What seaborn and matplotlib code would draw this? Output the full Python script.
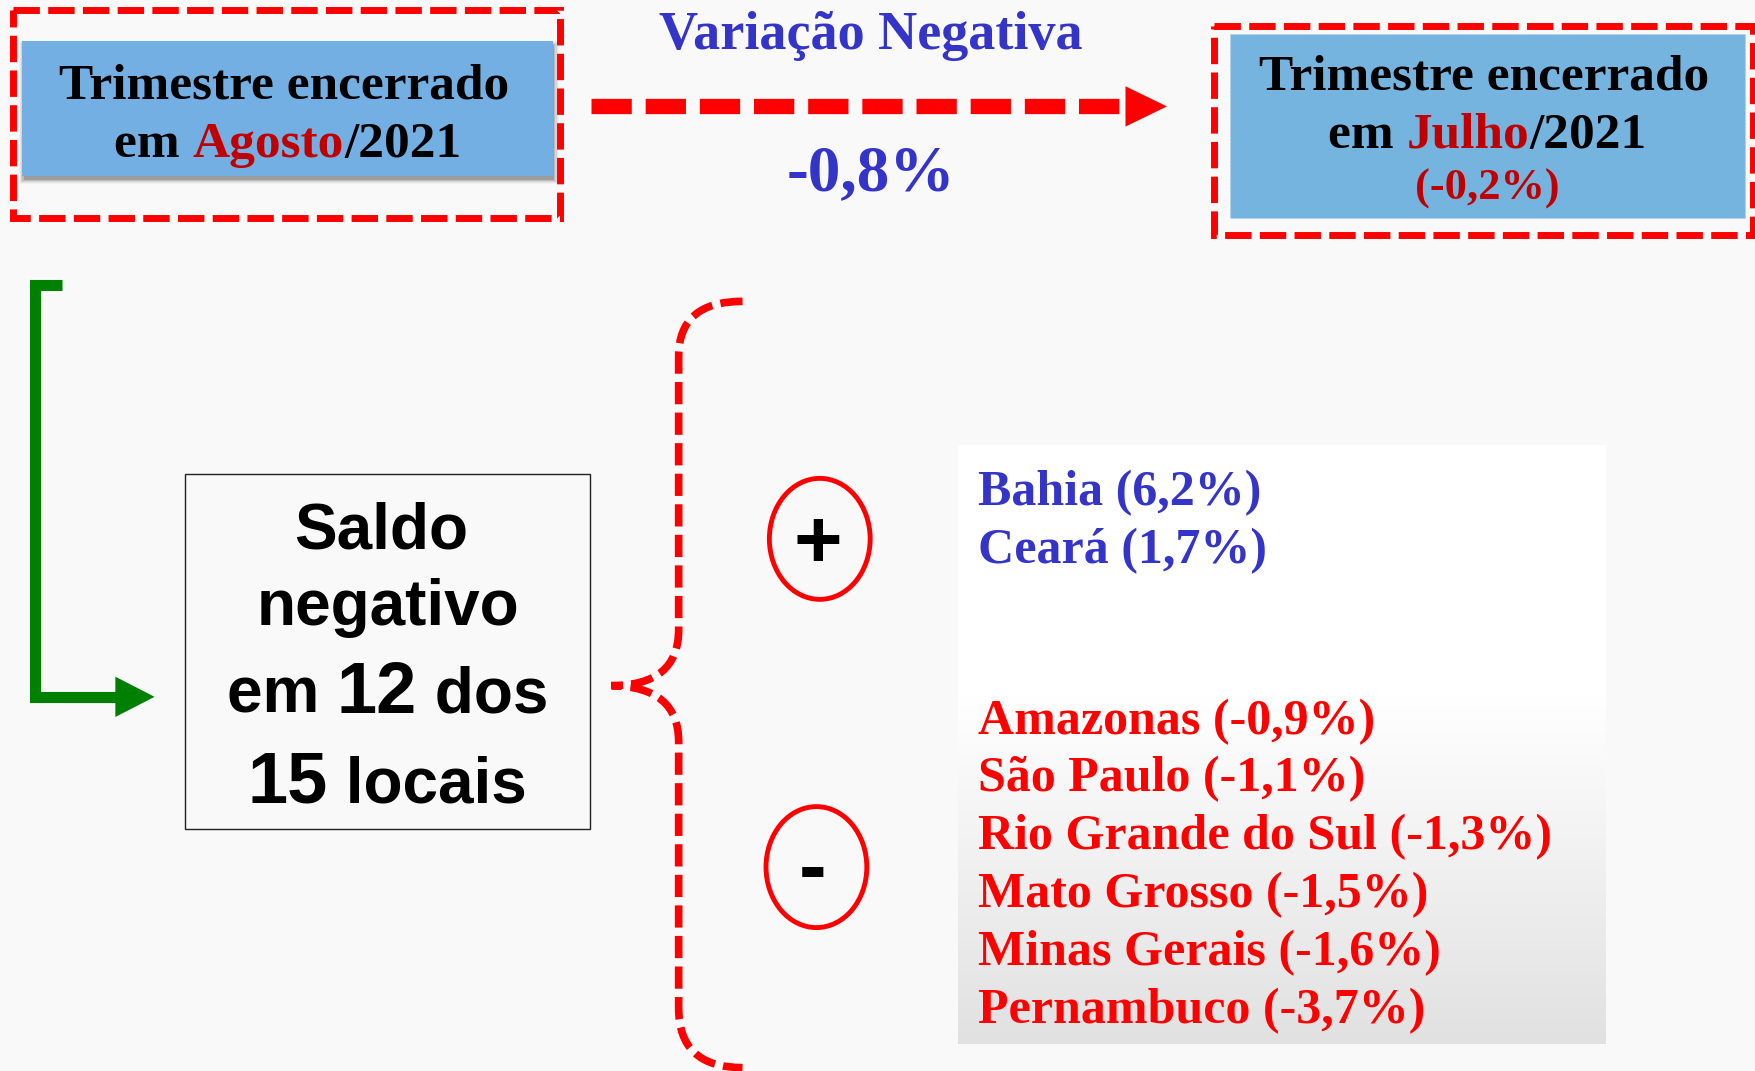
import numpy as np
import matplotlib
matplotlib.use("Agg")
import matplotlib.pyplot as plt
import seaborn as sns
from matplotlib.patches import Rectangle, Ellipse, Polygon, PathPatch
from matplotlib.path import Path
from matplotlib.colors import LinearSegmentedColormap

# values
total_change = -0.8
prev_change = -0.2
current_month = "Agosto"
previous_month = "Julho"
year = 2021
n_negative = 12
n_total = 15

positive_states = ["Bahia", "Ceará"]
positive_values = [6.2, 1.7]
negative_states = ["Amazonas", "São Paulo", "Rio Grande do Sul",
                   "Mato Grosso", "Minas Gerais", "Pernambuco"]
negative_values = [-0.9, -1.1, -1.3, -1.5, -1.6, -3.7]


def pct(v):
    return f"{v:.1f}%".replace(".", ",")


sns.set_theme(style="white", rc={"lines.scale_dashes": False})
plt.rcParams["font.family"] = ["Liberation Serif", "DejaVu Serif"]

BG = "#f9f9f9"
RED = "#ff0000"
DARKRED = "#c00000"
BLUE = "#3434c8"
BOXBLUE = "#73afe2"
GREEN = "#008000"
SERIF = ["Liberation Serif", "DejaVu Serif"]
SANS = ["Liberation Sans", "DejaVu Sans"]

fig = plt.figure(figsize=(17.56, 10.71), dpi=100, facecolor=BG)
ax = fig.add_axes([0, 0, 1, 1])
ax.set_facecolor(BG)
W, H = 1568, 956
ax.set_xlim(0, W)
ax.set_ylim(H, 0)
ax.axis("off")
PX = 1756 / W
renderer = fig.canvas.get_renderer()


def text_width(s, **kw):
    t = ax.text(0, 0, s + "|", **kw)
    w1 = t.get_window_extent(renderer).width
    t.set_text("|")
    w2 = t.get_window_extent(renderer).width
    t.remove()
    return (w1 - w2) / PX


def rich_line(xc, y, parts, **kw):
    opts = [{**kw, **p} for _, p in parts]
    widths = [text_width(s, **o) for (s, _), o in zip(parts, opts)]
    x = xc - sum(widths) / 2
    for (s, _), o, w in zip(parts, opts, widths):
        ax.text(x, y, s, ha="left", va="baseline", **o)
        x += w


dash = (0, (19, 6))

# ---- top left box (with soft drop shadow)
for i, a in enumerate([0.16, 0.10, 0.07, 0.05, 0.03]):
    ax.add_patch(Rectangle((20 + 1 - i, 37 + 3.5 - i), 474 + 2 * i, 120 + 2 * i,
                           facecolor="black", edgecolor="none", alpha=a, zorder=1))
ax.add_patch(Rectangle((20, 37), 474, 120, facecolor=BOXBLUE, edgecolor="none", zorder=2))
ax.add_patch(Rectangle((12, 9), 488, 186, fill=False, edgecolor=RED, lw=5,
                       linestyle=dash, zorder=3))
txt = dict(fontsize=37, fontweight="bold", family=SERIF, zorder=4)
ax.text(254, 88, "Trimestre encerrado", ha="center", va="baseline", color="black", **txt)
rich_line(257, 140, [("em ", {"color": "black"}),
                     (current_month, {"color": DARKRED}),
                     (f"/{year}", {"color": "black"})], **txt)

# ---- top right box
ax.add_patch(Rectangle((1098, 30), 460, 165, facecolor="#76b4e0",
                       edgecolor="#a9cdea", lw=0.8, linestyle=":", zorder=2))
ax.add_patch(Rectangle((1084, 23), 481, 187, fill=False, edgecolor=RED, lw=5,
                       linestyle=dash, zorder=3))
ax.text(1325, 80, "Trimestre encerrado", ha="center", va="baseline", color="black", **txt)
rich_line(1328, 132, [("em ", {"color": "black"}),
                      (previous_month, {"color": DARKRED}),
                      (f"/{year}", {"color": "black"})], **txt)
ax.text(1328, 178, f"({pct(prev_change)})", ha="center", va="baseline", color=DARKRED,
        fontsize=32, fontweight="bold", family=SERIF, zorder=4)

# ---- dashed arrow between boxes
ax.plot([528, 1008], [95, 95], color=RED, lw=11, linestyle=(0, (29, 10)),
        solid_capstyle="butt", dash_capstyle="butt", zorder=3)
ax.add_patch(Polygon([[1005, 77], [1005, 113], [1042, 95]], closed=True,
                     facecolor=RED, edgecolor="none", zorder=3))
ax.text(778, 44, "Variação Negativa", ha="center", va="baseline", color=BLUE,
        fontsize=39, fontweight="bold", family=SERIF)
ax.text(778, 170, pct(total_change), ha="center", va="baseline", color=BLUE,
        fontsize=47, fontweight="bold", family=SERIF)

# ---- green elbow arrow
ax.plot([55, 31, 31, 104], [254, 254, 622, 622], color=GREEN, lw=8,
        solid_joinstyle="miter", solid_capstyle="butt", zorder=3)
ax.add_patch(Polygon([[103, 604], [103, 640], [138, 622]], closed=True,
                     facecolor=GREEN, edgecolor="none", zorder=3))

# ---- saldo box
ax.add_patch(Rectangle((165, 423), 362, 317, fill=False, edgecolor="#202020", lw=1.0))
big = dict(fontsize=46, fontweight="bold", family=SANS, color="black")
ax.text(340, 490, "Saldo", ha="center", va="baseline", **big)
ax.text(346, 558, "negativo", ha="center", va="baseline", **big)
rich_line(346, 636, [("em ", {}), (str(n_negative), {"fontsize": 52}), (" dos", {})], **big)
rich_line(346, 716, [(str(n_total), {"fontsize": 52}), (" locais", {})], **big)

# ---- curly brace
verts = [(663, 269), (606, 269), (606, 318), (606, 562), (606, 612), (546, 612),
         (606, 613), (606, 662), (606, 900), (606, 953), (663, 953)]
codes = [Path.MOVETO, Path.CURVE3, Path.CURVE3, Path.LINETO, Path.CURVE3, Path.CURVE3,
         Path.CURVE3, Path.CURVE3, Path.LINETO, Path.CURVE3, Path.CURVE3]
ax.add_patch(PathPatch(Path(verts, codes), fill=False, edgecolor=RED, lw=5.5,
                       linestyle=(0, (16, 6)), capstyle="butt"))

# ---- +/- circles
ax.add_patch(Ellipse((732, 481), 90, 108, fill=False, edgecolor=RED, lw=3.5))
ax.add_patch(Ellipse((729, 774), 90, 108, fill=False, edgecolor=RED, lw=3.5))
ax.text(730, 487, "+", ha="center", va="center", fontsize=60, fontweight="bold",
        family=SANS, color="black")
ax.text(726, 778, "-", ha="center", va="center", fontsize=60, fontweight="bold",
        family=SANS, color="black")

# ---- state list panel
cmap = LinearSegmentedColormap.from_list("fade", [(0, "#ffffff"), (0.42, "#ffffff"),
                                                  (1, "#e1e1e1")])
grad = np.linspace(0, 1, 256).reshape(-1, 1)
ax.imshow(grad, cmap=cmap, extent=(855, 1433, 932, 398), aspect="auto", zorder=0)
ax.set_xlim(0, W)
ax.set_ylim(H, 0)

row_kw = dict(fontsize=36, fontweight="bold", family=SERIF, ha="left", va="baseline")
for i, (s, v) in enumerate(zip(positive_states, positive_values)):
    ax.text(873, 451 + i * 52, f"{s} ({pct(v)})", color=BLUE, **row_kw)
for i, (s, v) in enumerate(zip(negative_states, negative_values)):
    ax.text(873, 655 + i * 51.6, f"{s} ({pct(v)})", color=RED, **row_kw)

fig.savefig("out.png", dpi=100, facecolor=BG)
